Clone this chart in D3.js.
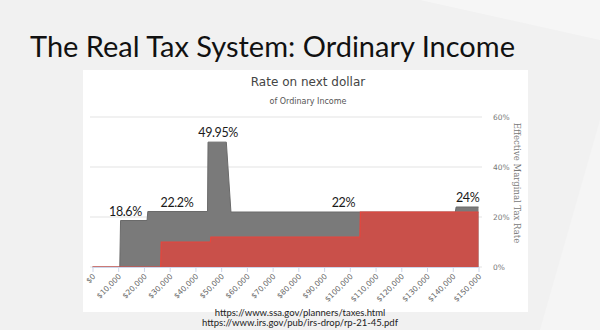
<!DOCTYPE html>
<html>
<head>
<meta charset="utf-8">
<script src="https://cdn.jsdelivr.net/npm/d3@7"></script>
<style>
  html, body { margin: 0; padding: 0; background: #f2f2f2; }
  svg { display: block; }
</style>
</head>
<body>
<svg id="chart" width="600" height="330"></svg>
<script>
// ---- data ----
const totalIncome = [0, 10600, 10900, 21200, 21500, 44700, 44900, 52000, 53800, 141000, 141300, 150000];
const totalRate   = [0, 0, 18.6, 18.6, 22.2, 22.2, 49.95, 49.95, 22, 22, 24, 24];

const federalIncome = [0, 26500, 26700, 45800, 46000, 103900, 104100, 150000];
const federalRate   = [0, 0, 10, 10, 12, 12, 22, 22];

const xTicks = [0, 10000, 20000, 30000, 40000, 50000, 60000, 70000, 80000, 90000, 100000, 110000, 120000, 130000, 140000, 150000];
const yTicks = [0, 20, 40, 60];

const labelIncome = [12800, 32800, 48800, 97500, 145800];
const labelRate   = [18.6, 22.2, 49.95, 22, 24];
const labelText   = ["18.6%", "22.2%", "49.95%", "22%", "24%"];

const sources = ["https://www.ssa.gov/planners/taxes.html", "https://www.irs.gov/pub/irs-drop/rp-21-45.pdf"];

// ---- drawing ----
const svg = d3.select("#chart");

// slide background with subtle facets
svg.append("rect").attr("width", 600).attr("height", 330).attr("fill", "#f1f1f1");
svg.append("path").attr("d", "M0,0 L420,0 L600,40 L600,0 Z").attr("fill", "#f6f6f6");
svg.append("path").attr("d", "M540,330 L600,120 L600,330 Z").attr("fill", "#f5f5f5");

svg.append("text")
  .attr("x", 30).attr("y", 57)
  .attr("font-family", "Lato, 'Open Sans', sans-serif")
  .attr("font-size", 29)
  .attr("fill", "#111")
  .attr("textLength", 485)
  .attr("lengthAdjust", "spacingAndGlyphs")
  .text("The Real Tax System: Ordinary Income");

// chart panel
svg.append("rect").attr("x", 83).attr("y", 70).attr("width", 445).attr("height", 242).attr("fill", "#ffffff");

svg.append("text")
  .attr("x", 308).attr("y", 86)
  .attr("text-anchor", "middle")
  .attr("font-family", "'DejaVu Sans', sans-serif")
  .attr("font-size", 12)
  .attr("fill", "#444")
  .text("Rate on next dollar");

svg.append("text")
  .attr("x", 308).attr("y", 104)
  .attr("text-anchor", "middle")
  .attr("font-family", "'DejaVu Sans', sans-serif")
  .attr("font-size", 8)
  .attr("fill", "#555")
  .text("of Ordinary Income");

const x = d3.scaleLinear().domain([0, 150000]).range([92.5, 478.5]);
const y = d3.scaleLinear().domain([0, 60]).range([267, 117]);

// gridlines
svg.append("g").selectAll("line").data(yTicks).join("line")
  .attr("x1", 90).attr("x2", 482)
  .attr("y1", d => y(d)).attr("y2", d => y(d))
  .attr("stroke", "#e3e3e3").attr("stroke-width", 1);

// right axis labels
const yAxis = d3.axisRight(y).tickValues(yTicks).tickSize(0).tickPadding(0).tickFormat(d => d + "%");
const yg = svg.append("g").attr("transform", "translate(493,0)").call(yAxis);
yg.select(".domain").remove();
yg.selectAll("text").attr("font-family", "'DejaVu Sans', sans-serif").attr("font-size", 7.5).attr("fill", "#777");

svg.append("text")
  .attr("transform", "translate(514,183) rotate(90)")
  .attr("text-anchor", "middle")
  .attr("font-family", "'DejaVu Serif', serif")
  .attr("font-size", 8.5)
  .attr("fill", "#777")
  .text("Effective Marginal Tax Rate");

// total marginal rate area (gray)
const totalPts = totalIncome.map((v, i) => [v, totalRate[i]]);
const area = d3.area().x(d => x(d[0])).y0(y(0)).y1(d => y(d[1]));
const line = d3.line().x(d => x(d[0])).y(d => y(d[1]));

svg.append("path").datum(totalPts)
  .attr("d", area).attr("fill", "#7a7a7a").attr("fill-opacity", 1);
svg.append("path").datum(totalPts)
  .attr("d", line).attr("fill", "none").attr("stroke", "#6a6a6a").attr("stroke-width", 1);

// federal income tax area (red)
const fedPts = federalIncome.map((v, i) => [v, federalRate[i]]);
svg.append("path").datum(fedPts)
  .attr("d", area).attr("fill", "#c9504a");
svg.append("path").datum(fedPts)
  .attr("d", line).attr("fill", "none").attr("stroke", "#e8453c").attr("stroke-width", 1.2);

// x axis
const xAxis = d3.axisBottom(x).tickValues(xTicks).tickSize(5).tickPadding(2)
  .tickFormat(d => "$" + d3.format(",")(d));
const xg = svg.append("g").attr("transform", "translate(0,267)").call(xAxis);
xg.select(".domain").attr("stroke", "#ccd6eb").attr("d", "M92.5,0.5H478.5");
xg.selectAll(".tick line").attr("stroke", "#ccd6eb");
xg.selectAll("text")
  .attr("font-family", "'DejaVu Sans', sans-serif")
  .attr("font-size", 7.5)
  .attr("fill", "#666")
  .attr("text-anchor", "end")
  .attr("dy", 0)
  .attr("transform", "translate(-2,5) rotate(-45)");

// value labels
svg.append("g").selectAll("text").data(labelText).join("text")
  .attr("x", (d, i) => x(labelIncome[i]))
  .attr("y", (d, i) => y(labelRate[i]) - 5)
  .attr("text-anchor", "middle")
  .attr("font-family", "Lato, sans-serif")
  .attr("font-size", 12.5)
  .attr("letter-spacing", -0.4)
  .attr("fill", "#1a1a1a")
  .text(d => d);

// sources
svg.append("g").selectAll("text").data(sources).join("text")
  .attr("x", 300)
  .attr("y", (d, i) => 316 + i * 10)
  .attr("text-anchor", "middle")
  .attr("font-family", "Lato, sans-serif")
  .attr("font-size", 9.5)
  .attr("fill", "#222")
  .text(d => d);
</script>
</body>
</html>
